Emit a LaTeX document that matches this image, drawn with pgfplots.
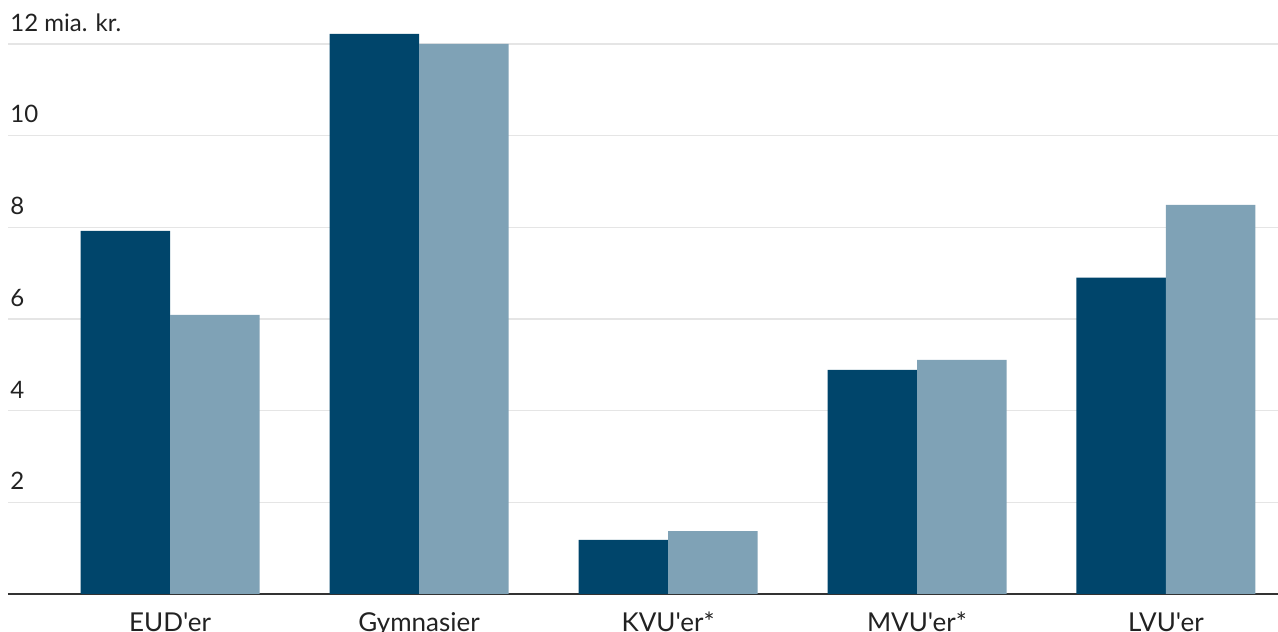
\documentclass[border=0pt]{standalone}
\usepackage{fontspec}
\setmainfont{Lato}[Ligatures=TeXOff]
\usepackage{pgfplots}
\pgfplotsset{compat=1.18}
\definecolor{darkbar}{HTML}{00456B}
\definecolor{lightbar}{HTML}{7FA2B6}
\definecolor{txt}{HTML}{222222}
\begin{document}
\begin{tikzpicture}
\begin{axis}[
  at={(4pt,18.5pt)}, anchor=south west,
  width=635pt, height=286.5pt, scale only axis,
  xmin=-0.651, xmax=4.45, ymin=0, ymax=12.5,
  ybar=0pt, bar width=44.75pt,
  axis lines*=left,
  y axis line style={draw=none},
  x axis line style={draw=black!80, line width=1pt},
  xtick={0,1,2,3,4},
  xticklabels={EUD'er,Gymnasier,KVU'er*,MVU'er*,LVU'er},
  ytick={2,4,6,8,10,12},
  yticklabels={2,4,6,8,10,12 mia. kr.},
  tick style={draw=none},
  ymajorgrids,
  grid style={color=black!10, line width=0.7pt},
  /pgf/number format/assume math mode=true,
  yticklabel style={anchor=base west, inner sep=0pt, xshift=1pt, yshift=6.3pt, font=\fontsize{12}{14}\selectfont, text=txt},
  xticklabel style={anchor=base, inner sep=0pt, yshift=-14.3pt, text depth=0pt, font=\fontsize{13}{15}\selectfont, text=txt},
  clip=false,
]
\addplot[fill=darkbar, draw=none] coordinates {(0,7.92) (1,12.22) (2,1.18) (3,4.89) (4,6.90)};
\addplot[fill=lightbar, draw=none] coordinates {(0,6.09) (1,12.0) (2,1.37) (3,5.11) (4,8.49)};
\end{axis}
\pgfresetboundingbox
\path[use as bounding box] (0,0) rectangle (639pt,315.5pt);
\end{tikzpicture}
\end{document}
